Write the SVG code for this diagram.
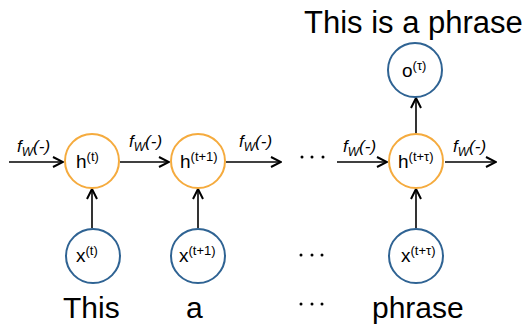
<svg xmlns="http://www.w3.org/2000/svg" width="526" height="324" viewBox="0 0 526 324">
  <style>
    .hid { fill: #fff; stroke: #F5AB3E; stroke-width: 2; }
    .io { fill: #fff; stroke: #2F6393; stroke-width: 2; }
    .edge { stroke: #000; stroke-width: 1.6; fill: none; marker-end: url(#head); }
    text { font-family: "Liberation Sans", Arial, sans-serif; fill: #000; }
    .lbl { font-size: 19px; }
    .sup { font-size: 13px; }
    .fw { font-size: 17px; font-style: italic; }
    .fws { font-size: 12px; font-style: italic; }
    .word { font-size: 30px; }
  </style>
  <defs>
    <marker id="head" viewBox="0 0 12 12" refX="11" refY="6" markerWidth="12" markerHeight="12" markerUnits="userSpaceOnUse" orient="auto">
      <path d="M1,1 L11,6 L1,11" fill="none" stroke="#000" stroke-width="2"/>
    </marker>
  </defs>

  <!-- connectors -->
  <g id="connectors">
    <line class="edge" x1="9" y1="162" x2="63" y2="162"/>
    <line class="edge" x1="120" y1="162" x2="169" y2="162"/>
    <line class="edge" x1="226" y1="162" x2="281" y2="162"/>
    <line class="edge" x1="337" y1="162" x2="387" y2="162"/>
    <line class="edge" x1="445" y1="162" x2="496" y2="162"/>
    <line class="edge" x1="92" y1="228" x2="92" y2="189"/>
    <line class="edge" x1="198" y1="228" x2="198" y2="189"/>
    <line class="edge" x1="416" y1="228" x2="416" y2="189"/>
    <line class="edge" x1="416" y1="134" x2="416" y2="98"/>
  </g>

  <!-- transition labels -->
  <g id="labels">
    <text x="17" y="152"><tspan class="fw">f</tspan><tspan class="fws" dy="4">W</tspan><tspan class="fw" dy="-4">(-)</tspan></text>
    <text x="129" y="147"><tspan class="fw">f</tspan><tspan class="fws" dy="4">W</tspan><tspan class="fw" dy="-4">(-)</tspan></text>
    <text x="239" y="147"><tspan class="fw">f</tspan><tspan class="fws" dy="4">W</tspan><tspan class="fw" dy="-4">(-)</tspan></text>
    <text x="343" y="152"><tspan class="fw">f</tspan><tspan class="fws" dy="4">W</tspan><tspan class="fw" dy="-4">(-)</tspan></text>
    <text x="453" y="152"><tspan class="fw">f</tspan><tspan class="fws" dy="4">W</tspan><tspan class="fw" dy="-4">(-)</tspan></text>
  </g>

  <!-- hidden states -->
  <g id="h_t">
    <circle class="hid" cx="92" cy="161" r="27"/>
    <text x="76" y="168"><tspan class="lbl">h</tspan><tspan class="sup" dy="-7">(t)</tspan></text>
  </g>
  <g id="h_t1">
    <circle class="hid" cx="198" cy="161" r="27"/>
    <text x="180" y="168"><tspan class="lbl">h</tspan><tspan class="sup" dy="-7">(t+1)</tspan></text>
  </g>
  <g id="h_tn">
    <circle class="hid" cx="416" cy="161" r="27"/>
    <text x="398" y="168"><tspan class="lbl">h</tspan><tspan class="sup" dy="-7">(t+τ)</tspan></text>
  </g>

  <!-- inputs -->
  <g id="x_t">
    <circle class="io" cx="93" cy="256" r="27"/>
    <text x="76" y="262"><tspan class="lbl">x</tspan><tspan class="sup" dy="-7">(t)</tspan></text>
  </g>
  <g id="x_t1">
    <circle class="io" cx="198" cy="256" r="27"/>
    <text x="179" y="262"><tspan class="lbl">x</tspan><tspan class="sup" dy="-7">(t+1)</tspan></text>
  </g>
  <g id="x_tn">
    <circle class="io" cx="416" cy="256" r="27"/>
    <text x="401" y="262"><tspan class="lbl">x</tspan><tspan class="sup" dy="-7">(t+τ)</tspan></text>
  </g>

  <!-- output -->
  <g id="o_tau">
    <circle class="io" cx="415" cy="70" r="27"/>
    <text x="402" y="77"><tspan class="lbl">o</tspan><tspan class="sup" dy="-7">(τ)</tspan></text>
  </g>

  <!-- ellipses -->
  <g id="ellipsis">
    <circle cx="302" cy="157" r="1.5"/><circle cx="312" cy="157" r="1.5"/><circle cx="323" cy="157" r="1.5"/>
    <circle cx="301" cy="255" r="1.5"/><circle cx="312" cy="255" r="1.5"/><circle cx="322" cy="255" r="1.5"/>
    <circle cx="301" cy="304" r="1.5"/><circle cx="312" cy="304" r="1.5"/><circle cx="322" cy="304" r="1.5"/>
  </g>

  <!-- words -->
  <g id="words">
    <text class="word" x="63" y="318">This</text>
    <text class="word" x="186" y="318">a</text>
    <text class="word" x="372" y="318">phrase</text>
    <text class="word" x="304" y="33" style="font-size:31px">This is a phrase</text>
  </g>
</svg>
